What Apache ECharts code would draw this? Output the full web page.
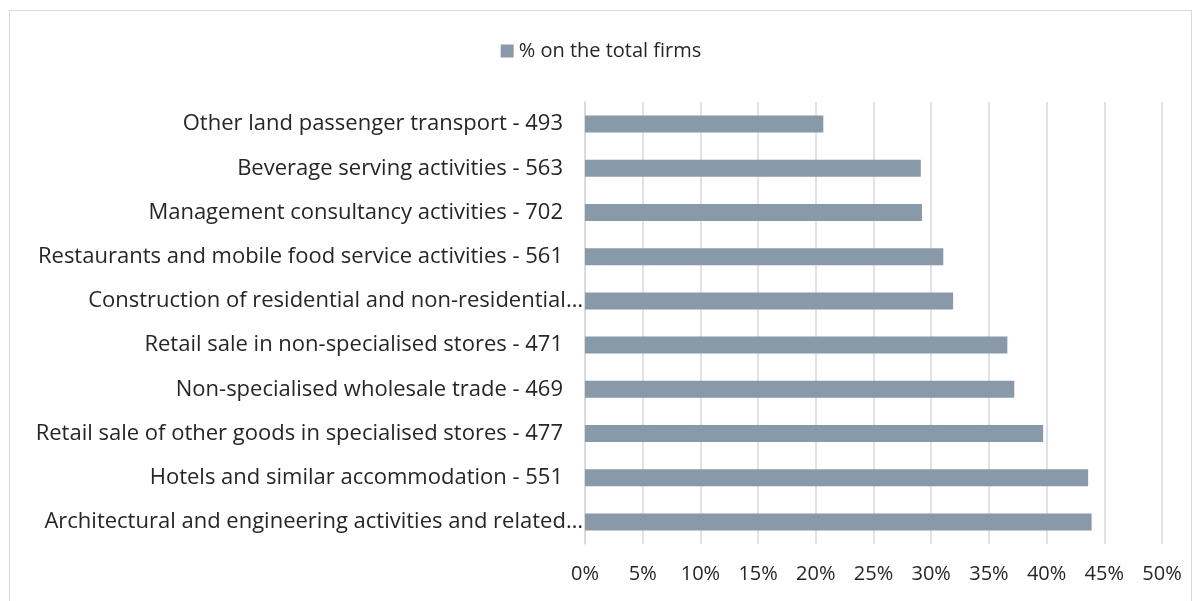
<!DOCTYPE html>
<html>
<head>
<meta charset="utf-8">
<script src="https://cdn.jsdelivr.net/npm/echarts@6/dist/echarts.min.js"></script>
<style>
  html, body { margin: 0; padding: 0; background: #fff; }
  #wrap { position: relative; width: 1202px; height: 601px; }
  #frame { position: absolute; left: 9px; top: 10px; width: 1183px; height: 600px; border: 1px solid #d9d9d9; box-sizing: border-box; }
  #chart { position: absolute; left: 0; top: 0; width: 1202px; height: 601px; }
</style>
</head>
<body>
<div id="wrap">
  <div id="frame"></div>
  <div id="chart"></div>
</div>
<script>
// categories listed bottom -> top (category axis starts at the bottom)
const categories = [
  'Architectural and engineering activities and related…',
  'Hotels and similar accommodation - 551',
  'Retail sale of other goods in specialised stores - 477',
  'Non-specialised wholesale trade - 469',
  'Retail sale in non-specialised stores - 471',
  'Construction of residential and non-residential…',
  'Restaurants and mobile food service activities - 561',
  'Management consultancy activities - 702',
  'Beverage serving activities - 563',
  'Other land passenger transport - 493'
]
const shareOfFirms = [43.9, 43.6, 39.7, 37.2, 36.6, 31.9, 31.05, 29.2, 29.1, 20.65]
const seriesName = '% on the total firms'

const font = '"Open Sans", sans-serif'
const labelSize = 22

const chart = echarts.init(document.getElementById('chart'))
chart.setOption({
  animation: false,
  textStyle: { fontFamily: font },
  legend: {
    top: 36,
    left: 'center',
    itemWidth: 13,
    itemHeight: 13,
    itemGap: 4,
    textStyle: { fontSize: 20, color: '#262626', fontFamily: font },
    data: [{ name: seriesName, icon: 'rect' }]
  },
  grid: {
    left: 585,
    right: 40,
    top: 102,
    bottom: 57
  },
  xAxis: {
    type: 'value',
    min: 0,
    max: 50,
    interval: 5,
    axisLine: { show: false },
    axisTick: { show: false },
    splitLine: { show: true, lineStyle: { color: '#d9d9d9', width: 1.5 } },
    axisLabel: {
      formatter: '{value}%',
      fontSize: 20,
      color: '#262626',
      fontFamily: font,
      margin: 20
    }
  },
  yAxis: {
    type: 'category',
    data: categories,
    axisLine: { show: true, lineStyle: { color: '#d9d9d9', width: 1.5 } },
    axisTick: { show: false },
    axisLabel: {
      fontSize: labelSize,
      color: '#262626',
      fontFamily: font,
      margin: 2,
      // truncated labels run up to the axis, full ones stop short of it
      formatter: v => (v.endsWith('…') ? '{t|' + v + '}' : '{f|' + v + '}'),
      rich: {
        t: { fontSize: labelSize, color: '#262626', fontFamily: font },
        f: { fontSize: labelSize, color: '#262626', fontFamily: font, padding: [0, 20, 0, 0] }
      }
    }
  },
  series: [
    {
      name: seriesName,
      type: 'bar',
      data: shareOfFirms,
      barWidth: 17,
      itemStyle: { color: '#8899aa' }
    }
  ]
})
</script>
</body>
</html>
